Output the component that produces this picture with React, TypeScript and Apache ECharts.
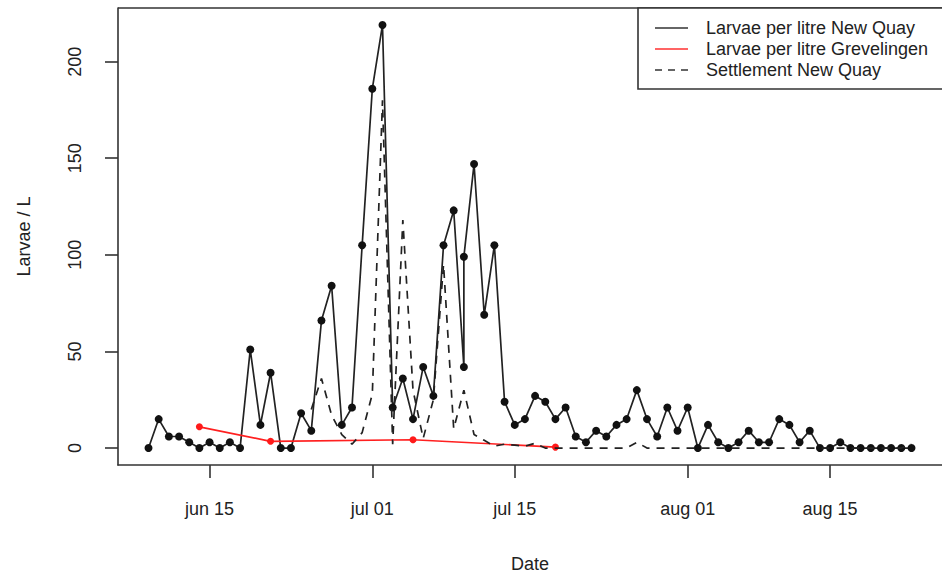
import React, { useEffect, useRef } from "react";
import * as echarts from "echarts";

// ---- data ----
const newQuayDates = [
  "06-09", "06-10", "06-11", "06-12", "06-13", "06-14", "06-15", "06-16", "06-17", "06-18",
  "06-19", "06-20", "06-21", "06-22", "06-23", "06-24", "06-25", "06-26", "06-27", "06-28",
  "06-29", "06-30", "07-01", "07-02", "07-03", "07-04", "07-05", "07-06", "07-07", "07-08",
  "07-09", "07-10", "07-10", "07-11", "07-12", "07-13", "07-14", "07-15", "07-16", "07-17",
  "07-18", "07-19", "07-20", "07-21", "07-22", "07-23", "07-24", "07-25", "07-26", "07-27",
  "07-28", "07-29", "07-30", "07-31", "08-01", "08-02", "08-03", "08-04", "08-05", "08-06",
  "08-07", "08-08", "08-09", "08-10", "08-11", "08-12", "08-13", "08-14", "08-15", "08-16",
  "08-17", "08-18", "08-19", "08-20", "08-21", "08-22", "08-23",
];
const newQuayLarvae = [
  0, 15, 6, 6, 3, 0, 3, 0, 3, 0,
  51, 12, 39, 0, 0, 18, 9, 66, 84, 12,
  21, 105, 186, 219, 21, 36, 15, 42, 27, 105,
  123, 42, 99, 147, 69, 105, 24, 12, 15, 27,
  24, 15, 21, 6, 3, 9, 6, 12, 15, 30,
  15, 6, 21, 9, 21, 0, 12, 3, 0, 3,
  9, 3, 3, 15, 12, 3, 9, 0, 0, 3,
  0, 0, 0, 0, 0, 0, 0,
];

const grevelingenDates = ["06-14", "06-21", "07-05", "07-19"];
const grevelingenLarvae = [11, 3.5, 4.3, 0.5];

const settlementDates = [
  "06-25", "06-26", "06-27", "06-28", "06-29", "06-30", "07-01", "07-02", "07-03", "07-04",
  "07-05", "07-06", "07-07", "07-08", "07-09", "07-10", "07-11", "07-12", "07-13", "07-14",
  "07-15", "07-16", "07-17", "07-18", "07-19", "07-20", "07-21", "07-22", "07-23", "07-24",
  "07-25", "07-26", "07-27", "07-28", "07-29", "07-30", "07-31", "08-01", "08-02", "08-03",
  "08-04", "08-05", "08-06", "08-07", "08-08", "08-09", "08-10", "08-11", "08-12", "08-13",
  "08-14", "08-15", "08-16", "08-17", "08-18", "08-19", "08-20", "08-21", "08-22", "08-23",
];
const settlementNewQuay = [
  20, 36, 17, 7, 2, 8, 28, 180, 2, 118,
  30, 5, 25, 95, 10, 30, 7, 4, 1, 2,
  1.5, 1, 2.5, 0, 0, 0, 0, 0, 0, 0,
  0, 0, 3, 0, 0, 0, 0, 0, 0, 0,
  0, 0, 0, 0, 0, 0, 0, 0, 0, 0,
  0, 0, 0, 0, 0, 0, 0, 0, 0, 2,
];

const tickDates = ["06-15", "07-01", "07-15", "08-01", "08-15"];
const tickLabels = ["jun 15", "jul 01", "jul 15", "aug 01", "aug 15"];
const yTicks = [0, 50, 100, 150, 200];

const legendLabels = [
  "Larvae per litre New Quay",
  "Larvae per litre Grevelingen",
  "Settlement New Quay",
];

// day number relative to 15 June
function dayOf(md: string): number {
  const [m, d] = md.split("-").map(Number);
  return (Date.UTC(2020, m - 1, d) - Date.UTC(2020, 5, 15)) / 86400000;
}

const FONT = '"Liberation Sans", Arial, Helvetica, sans-serif';
const TXT = "#222";
const AX = "#333";

export default function App() {
  const ref = useRef<HTMLDivElement>(null);

  useEffect(() => {
    if (!ref.current) return;
    const chart = echarts.init(ref.current, undefined, { renderer: "svg" });

    const allDays = newQuayDates.map(dayOf);
    const dMin = Math.min(...allDays);
    const dMax = Math.max(...allDays);
    const xPad = (dMax - dMin) * 0.04;
    const yDataMax = Math.max(...newQuayLarvae, ...settlementNewQuay);
    const yPad = yDataMax * 0.04;

    const tickDays = tickDates.map(dayOf);

    const lx1 = 655, lx2 = 688, ltx = 706;
    const rowsY = [28, 49, 70];

    chart.setOption({
      animation: false,
      backgroundColor: "#fff",
      grid: {
        left: 118,
        right: -2,
        top: 8,
        bottom: 115,
        show: false,
      },
      xAxis: {
        type: "value",
        min: dMin - xPad,
        max: dMax + xPad,
        axisLine: { show: true, onZero: false, lineStyle: { color: AX, width: 1.6 } },
        splitLine: { show: false },
        axisTick: {
          show: true,
          length: 13,
          customValues: tickDays,
          lineStyle: { color: AX, width: 1.6 },
        },
        axisLabel: {
          customValues: tickDays,
          margin: 35,
          fontSize: 18,
          fontFamily: FONT,
          color: TXT,
          formatter: (v: number) => {
            const i = tickDays.indexOf(v);
            return i >= 0 ? tickLabels[i] : "";
          },
        },
        name: "Date",
        nameLocation: "middle",
        nameGap: 90,
        nameTextStyle: { fontSize: 18, fontFamily: FONT, color: TXT },
      },
      yAxis: {
        type: "value",
        min: -yPad,
        max: yDataMax + yPad,
        axisLine: { show: true, onZero: false, lineStyle: { color: AX, width: 1.6 } },
        splitLine: { show: false },
        axisTick: {
          show: true,
          length: 13,
          customValues: yTicks,
          lineStyle: { color: AX, width: 1.6 },
        },
        axisLabel: {
          customValues: yTicks,
          rotate: 90,
          margin: 34,
          fontSize: 18,
          fontFamily: FONT,
          color: TXT,
        },
        name: "Larvae / L",
        nameLocation: "middle",
        nameGap: 85,
        nameRotate: 90,
        nameTextStyle: { fontSize: 18, fontFamily: FONT, color: TXT },
      },
      series: [
        {
          name: legendLabels[0],
          type: "line",
          data: newQuayDates.map((d, i) => [dayOf(d), newQuayLarvae[i]]),
          symbol: "circle",
          symbolSize: 8,
          showAllSymbol: true,
          lineStyle: { color: "#222", width: 1.7 },
          itemStyle: { color: "#111" },
          z: 2,
        },
        {
          name: legendLabels[1],
          type: "line",
          data: grevelingenDates.map((d, i) => [dayOf(d), grevelingenLarvae[i]]),
          symbol: "circle",
          symbolSize: 7,
          showAllSymbol: true,
          lineStyle: { color: "#ff2020", width: 1.7 },
          itemStyle: { color: "#ff1a1a" },
          z: 3,
        },
        {
          name: legendLabels[2],
          type: "line",
          data: settlementDates.map((d, i) => [dayOf(d), settlementNewQuay[i]]),
          symbol: "none",
          lineStyle: { color: "#222", width: 1.7, type: [8, 7] },
          z: 4,
        },
      ],
      graphic: [
        {
          type: "line",
          shape: { x1: 118, y1: 8, x2: 942, y2: 8 },
          style: { stroke: AX, lineWidth: 1.6 },
          z: 9,
        },
        {
          type: "rect",
          shape: { x: 638, y: 8, width: 330, height: 81 },
          style: { fill: "#fff", stroke: AX, lineWidth: 1.6 },
          z: 10,
        },
        {
          type: "line",
          shape: { x1: lx1, y1: rowsY[0], x2: lx2, y2: rowsY[0] },
          style: { stroke: "#333", lineWidth: 1.7 },
          z: 11,
        },
        {
          type: "line",
          shape: { x1: lx1, y1: rowsY[1], x2: lx2, y2: rowsY[1] },
          style: { stroke: "#ff3030", lineWidth: 1.7 },
          z: 11,
        },
        {
          type: "line",
          shape: { x1: lx1, y1: rowsY[2], x2: lx2, y2: rowsY[2] },
          style: { stroke: "#333", lineWidth: 1.7, lineDash: [7, 6] },
          z: 11,
        },
        ...legendLabels.map((t, i) => ({
          type: "text",
          x: ltx,
          y: rowsY[i],
          style: {
            text: t,
            fontSize: 18,
            fontFamily: FONT,
            fill: TXT,
            textVerticalAlign: "middle",
            verticalAlign: "middle",
          },
          z: 11,
        })),
      ],
    });

    return () => chart.dispose();
  }, []);

  return (
    <div
      ref={ref}
      style={{ position: "absolute", left: 0, top: 0, width: 942, height: 580 }}
    />
  );
}
